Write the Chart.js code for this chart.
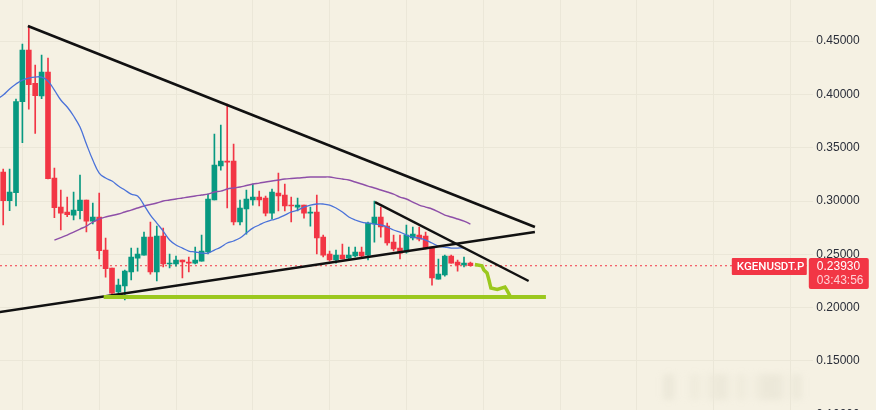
<!DOCTYPE html>
<html>
<head>
<meta charset="utf-8">
<title>KGENUSDT.P</title>
<script src="https://cdn.jsdelivr.net/npm/chart.js@4"></script>
<style>
    html, body { margin: 0; padding: 0; background: #f5f1e3; overflow: hidden; }
    #wrap { position: relative; width: 876px; height: 430px; }
    #chart { position: absolute; left: 0; top: 0; }
    #blur { position: absolute; left: 660px; top: 374px; width: 145px; height: 26px; filter: blur(3px); opacity: .35;
        background: linear-gradient(90deg, transparent 0, #d5d1c0 6%, transparent 12%, transparent 18%, #e2decd 24%, transparent 30%, #e2decd 36%, #dcd8c7 44%, transparent 50%, #e2decd 56%, transparent 62%, #dcd8c7 72%, #dcd8c7 82%, transparent 88%, #d9d5c4 94%, transparent 100%); }
</style>
</head>
<body>
<div id="wrap">
    <div id="blur"></div>
    <canvas id="chart" width="876" height="430"></canvas>
</div>
<script>
// PRICE DATA
var opens = [.3272,.3003,.3077,.3931,.4416,.4103,.3984,.4209,.3215,.2943,.2897,.2868,.2909,.3009,.2812,.2850,.2540,.2372,.2147,.2203,.2334,.2465,.2493,.2662,.2334,.2672,.2409,.2409,.2447,.2428,.2418,.2437,.2522,.3009,.3328,.3375,.3375,.2803,.2925,.3009,.3037,.3028,.2887,.3075,.3056,.2962,.2943,.2962,.2887,.2897,.2662,.2503,.2447,.2493,.2465,.2484,.2522,.2493,.2784,.2850,.2765,.2615,.2559,.2522,.2653,.2681,.2672,.2568,.2268,.2306,.2484,.2428,.2400,.2418];
var highs = [.3300,.3300,.3956,.4472,.4643,.4275,.4368,.4340,.3309,.3103,.3037,.3084,.3243,.3009,.2981,.3075,.2653,.2372,.2268,.2353,.2559,.2559,.2709,.2803,.2765,.2746,.2503,.2484,.2447,.2475,.2568,.2681,.3065,.3628,.3712,.3909,.3534,.3009,.3103,.3159,.3093,.3047,.3112,.3262,.3159,.3037,.3028,.2962,.2943,.3056,.2681,.2531,.2540,.2596,.2568,.2568,.2568,.2803,.3000,.2943,.2793,.2681,.2681,.2775,.2756,.2756,.2709,.2568,.2456,.2493,.2493,.2447,.2475,.2428];
var lows = [.2775,.2909,.2953,.3546,.3862,.3634,.3959,.3206,.2843,.2728,.2852,.2822,.2831,.2709,.2784,.2456,.2287,.2119,.2137,.2072,.2259,.2343,.2493,.2315,.2250,.2381,.2372,.2390,.2278,.2334,.2409,.2437,.2503,.3009,.3290,.2934,.2775,.2775,.2690,.2962,.2953,.2859,.2831,.2906,.2906,.2803,.2906,.2840,.2765,.2503,.2475,.2437,.2418,.2456,.2456,.2475,.2475,.2447,.2615,.2662,.2587,.2531,.2456,.2512,.2634,.2625,.2550,.2212,.2268,.2296,.2418,.2343,.2381,.2390];
var closes = [.3003,.3084,.3931,.4416,.4090,.3987,.4209,.3209,.2937,.2887,.2871,.2915,.3009,.2812,.2850,.2534,.2365,.2137,.2212,.2343,.2475,.2503,.2662,.2334,.2672,.2409,.2418,.2447,.2428,.2418,.2447,.2531,.3019,.3337,.3375,.3365,.2803,.2934,.3019,.3037,.3009,.2887,.3084,.3047,.2953,.2953,.2962,.2887,.2897,.2653,.2493,.2447,.2493,.2456,.2493,.2522,.2484,.2793,.2850,.2756,.2606,.2550,.2512,.2681,.2690,.2643,.2559,.2278,.2315,.2484,.2418,.2400,.2418,.2393];

// MOVING AVERAGES
var maBlueStart = -1;
var maBlue = [.3956,.3993,.4050,.4097,.4134,.4153,.4162,.4162,.4125,.4040,.3947,.3881,.3797,.3693,.3534,.3384,.3262,.3215,.3187,.3140,.3103,.3065,.3047,.2962,.2868,.2793,.2718,.2634,.2587,.2559,.2531,.2522,.2512,.2512,.2540,.2568,.2606,.2625,.2653,.2700,.2746,.2775,.2803,.2822,.2840,.2868,.2897,.2915,.2943,.2962,.2972,.2972,.2962,.2934,.2897,.2850,.2822,.2803,.2793,.2784,.2775,.2756,.2728,.2709,.2681,.2662,.2653,.2634,.2606,.2578,.2568,.2559,.2559,.2559,.2531];
var maPurpleStart = 8;
var maPurple = [.2634,.2657,.2681,.2709,.2737,.2765,.2803,.2831,.2850,.2864,.2878,.2897,.2915,.2934,.2953,.2967,.2981,.3000,.3009,.3019,.3028,.3037,.3047,.3056,.3065,.3084,.3093,.3112,.3122,.3131,.3145,.3159,.3168,.3178,.3187,.3197,.3206,.3211,.3215,.3220,.3225,.3225,.3225,.3225,.3215,.3206,.3197,.3178,.3159,.3140,.3122,.3103,.3084,.3065,.3037,.3019,.2990,.2962,.2943,.2925,.2897,.2868,.2850,.2831,.2812,.2784];

// DRAWN LINES (bar index, price)
var upperX = [3.86, 83.08];
var upperY = [.4640, .2756];
var risingX = [-0.52, 83.08];
var risingY = [.1959, .2709];
var lowerX = [58.1, 82.1];
var lowerY = [.2990, .2250];
var supportX = [15.7, 84.8];
var supportY = [.2100, .2100];
var pathX = [73.7, 74.8, 75.1, 75.6, 75.9, 76.2, 77.2, 78.4, 78.7, 79.2];
var pathY = [.2404, .2392, .2353, .2325, .2259, .2184, .2170, .2193, .2165, .2109];

// AXIS
var yTicks = [.45, .40, .35, .30, .25, .20, .15, .10];
var symbol = "KGENUSDT.P";
var lastPrice = 0.2393;
var lastPriceLabel = "0.23930";
var countdown = "03:43:56";

var UP = "#089981";
var DOWN = "#f23645";

function pairs(xs, ys) {
    return xs.map(function (x, i) { return { x: x, y: ys[i] }; });
}
function series(start, values) {
    return values.map(function (v, i) { return { x: start + i, y: v }; });
}
function trend(xs, ys, color, width) {
    return { type: "line", data: pairs(xs, ys), borderColor: color, borderWidth: width, pointRadius: 0, tension: 0, order: 0 };
}
function candleColors() {
    return closes.map(function (c, i) { return c >= opens[i] ? UP : DOWN; });
}

// price tag on the right hand side
var priceTag = {
    id: "priceTag",
    afterDraw: function (chart) {
        var c = chart.ctx;
        var y = Math.round(chart.scales.y.getPixelForValue(lastPrice));
        var right = chart.chartArea.right;
        c.save();
        c.fillStyle = DOWN;
        c.beginPath();
        c.roundRect(right - 81, y - 8, 75, 17, 1);
        c.fill();
        c.beginPath();
        c.roundRect(right - 4, y - 8, 60, 31, 2);
        c.fill();
        c.textBaseline = "middle";
        c.font = "500 11.5px Roboto";
        c.fillStyle = "#ffffff";
        c.fillText(symbol, right - 76, y + 1);
        c.font = "12px 'Liberation Sans'";
        c.fillText(lastPriceLabel, right + 4, y + 1);
        c.fillStyle = "#ffd0d5";
        c.fillText(countdown, right + 4, y + 15);
        c.restore();
    },
};

new Chart(document.getElementById("chart"), {
    type: "bar",
    data: {
        datasets: [
            {
                label: "wick",
                data: lows.map(function (l, i) { return { x: i, y: [l, highs[i]] }; }),
                backgroundColor: candleColors(),
                barThickness: 1,
                grouped: false,
                order: 3,
            },
            {
                label: "body",
                data: opens.map(function (o, i) { return { x: i, y: [o, closes[i]] }; }),
                backgroundColor: candleColors(),
                barThickness: 5,
                minBarLength: 1,
                grouped: false,
                order: 3,
            },
            { type: "line", data: series(maBlueStart, maBlue), borderColor: "#4a72d9", borderWidth: 1.3, pointRadius: 0, tension: 0.4, order: 2 },
            { type: "line", data: series(maPurpleStart, maPurple), borderColor: "#8e4fa8", borderWidth: 1.4, pointRadius: 0, tension: 0.4, order: 2 },
            {
                type: "line",
                data: [{ x: -0.5, y: lastPrice }, { x: 126.5, y: lastPrice }],
                borderColor: DOWN,
                borderWidth: 1,
                borderDash: [2, 3],
                pointRadius: 0,
                order: 4,
            },
            trend(supportX, supportY, "#9bc81e", 4),
            trend(pathX, pathY, "#9bc81e", 3.5),
            trend(upperX, upperY, "#111111", 2.6),
            trend(risingX, risingY, "#111111", 2.6),
            trend(lowerX, lowerY, "#111111", 2.4),
        ],
    },
    options: {
        responsive: false,
        animation: false,
        maintainAspectRatio: false,
        layout: { padding: 0 },
        plugins: { legend: { display: false }, tooltip: { enabled: false } },
        scales: {
            x: {
                type: "linear",
                offset: false,
                min: -0.5,
                max: 126.5,
                display: true,
                ticks: { display: false },
                afterBuildTicks: function (axis) {
                    var t = [];
                    for (var i = 3; i <= 126; i += 12) t.push({ value: i });
                    axis.ticks = t;
                },
                afterFit: function (axis) {
                    axis.height = 0;
                    axis.paddingLeft = 0;
                    axis.paddingRight = 0;
                },
                grid: { color: "#ebe7d8", drawTicks: false, offset: false },
                border: { display: false },
            },
            y: {
                position: "right",
                min: 0.08531,
                max: 0.48844,
                afterBuildTicks: function (axis) {
                    axis.ticks = yTicks.map(function (v) { return { value: v }; });
                },
                afterFit: function (axis) {
                    axis.width = 63.2;
                    axis.paddingTop = 0;
                    axis.paddingBottom = 0;
                },
                ticks: {
                    padding: 3.5,
                    color: "#2a2e39",
                    font: { family: "'Liberation Sans'", size: 12 },
                    callback: function (v) { return v.toFixed(5); },
                },
                grid: { color: "#ebe7d8", drawTicks: false },
                border: { display: false },
            },
        },
    },
    plugins: [priceTag],
});
</script>
</body>
</html>
